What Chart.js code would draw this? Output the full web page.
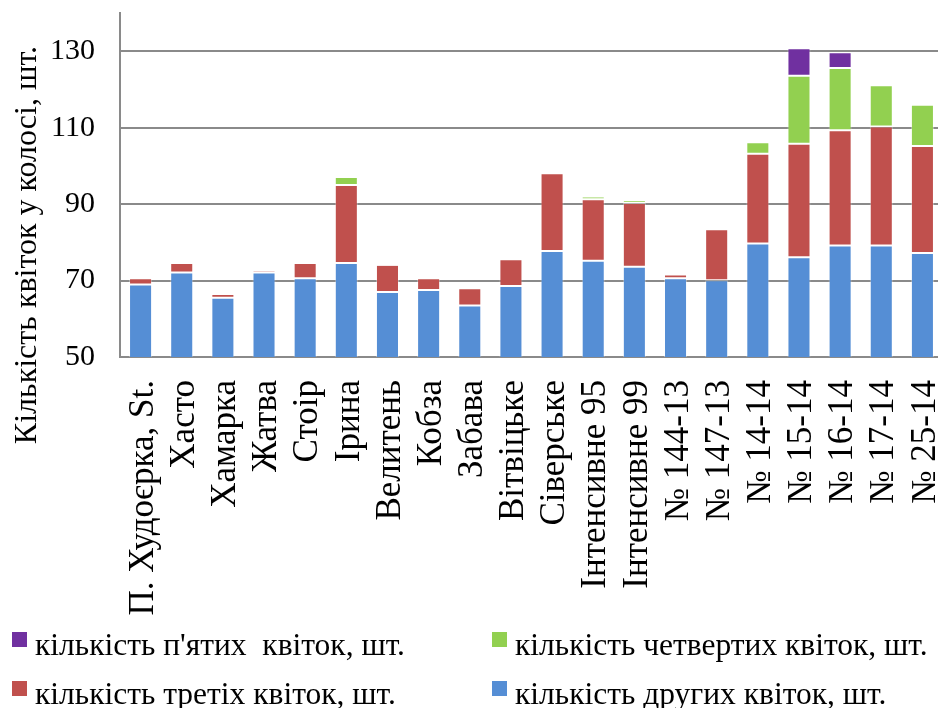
<!DOCTYPE html>
<html>
<head>
<meta charset="utf-8">
<script src="https://cdn.jsdelivr.net/npm/chart.js@4"></script>
<style>
  html, body { margin: 0; padding: 0; background: #fff; overflow: hidden; }
  #wrap { position: relative; width: 943px; height: 708px; }
</style>
</head>
<body>
<div id="wrap"><canvas id="c"></canvas></div>
<script>
const categories = ['П. Худоєрка, St.', 'Хасто', 'Хамарка', 'Жатва', 'Стоір', 'Ірина', 'Велитень', 'Кобза', 'Забава', 'Вітвіцьке', 'Сіверське', 'Інтенсивне 95', 'Інтенсивне 99', '№ 144-13', '№ 147-13', '№ 14-14', '№ 15-14', '№ 16-14', '№ 17-14', '№ 25-14'];
const secondFlowers = [69.0, 72.1, 65.5, 72.1, 70.6, 74.6, 67.0, 67.5, 63.5, 68.6, 77.7, 75.2, 73.6, 70.6, 70.1, 79.7, 76.1, 79.2, 79.2, 77.2];
const thirdFlowers  = [1.6, 2.5, 1.0, 0.6, 4.0, 20.4, 7.1, 3.1, 4.5, 7.0, 20.4, 16.1, 16.7, 1.0, 13.3, 23.5, 29.7, 30.1, 31.1, 28.0];
const fourthFlowers = [0, 0, 0, 0, 0, 2.1, 0, 0, 0, 0, 0, 0.7, 0.7, 0, 0, 3.0, 17.8, 16.3, 10.8, 10.8];
const fifthFlowers  = [0, 0, 0, 0, 0, 0, 0, 0, 0, 0, 0, 0, 0, 0, 0, 0, 7.2, 4.1, 0, 0];
const seriesNames = ['кількість других квіток, шт.', 'кількість третіх квіток, шт.', 'кількість четвертих квіток, шт.', 'кількість п\'ятих  квіток, шт.'];
const seriesColors = ['#558ED5', '#C0504D', '#92D050', '#7030A0'];
const yTicks = [50, 70, 90, 110, 130];
const yTitle = 'Кількість квіток у колосі, шт.';

const FONT = "'Liberation Serif', 'Times New Roman', serif";

const customText = {
  id: 'customText',
  afterDraw(chart) {
    const ctx = chart.ctx;
    ctx.save();
    ctx.fillStyle = '#000';
    ctx.font = '32px ' + FONT;
    ctx.textAlign = 'center';
    ctx.textBaseline = 'middle';
    ctx.translate(28, 245);
    ctx.rotate(-Math.PI / 2);
    ctx.fillText(yTitle, 0, 0);
    ctx.restore();

    ctx.save();
    ctx.font = '31.5px ' + FONT;
    ctx.textAlign = 'left';
    ctx.textBaseline = 'alphabetic';
    const items = [
      {i: 3, x: 12, y: 632},
      {i: 2, x: 492, y: 632},
      {i: 1, x: 12, y: 681},
      {i: 0, x: 492, y: 681}
    ];
    items.forEach(it => {
      ctx.fillStyle = seriesColors[it.i];
      ctx.fillRect(it.x, it.y, 15, 15);
      ctx.fillStyle = '#000';
      ctx.fillText(seriesNames[it.i], it.x + 23, it.y + 23);
    });
    ctx.restore();
  }
};

const datasets = [secondFlowers, thirdFlowers, fourthFlowers, fifthFlowers].map((d, i) => ({
  label: seriesNames[i],
  data: d,
  backgroundColor: seriesColors[i],
  borderColor: 'rgba(255,255,255,0.35)',
  borderWidth: 1,
  borderSkipped: false,
  barPercentage: 0.7,
  categoryPercentage: 0.8
}));

new Chart(document.getElementById('c'), {
  type: 'bar',
  data: { labels: categories, datasets },
  options: {
    responsive: true,
    maintainAspectRatio: false,
    animation: false,
    layout: { padding: { top: 13, right: 0, bottom: 0, left: 0 } },
    plugins: {
      legend: { display: false },
      tooltip: { enabled: false }
    },
    scales: {
      x: {
        stacked: true,
        grid: { display: false, drawTicks: false },
        border: { display: true, color: '#8a8a8a', width: 2 },
        ticks: {
          autoSkip: false,
          maxRotation: 90,
          minRotation: 90,
          padding: 23,
          labelOffset: 3,
          color: '#000',
          font: { family: FONT, size: 35 }
        },
        afterFit(scale) {
          scale.height = 351;
          scale.paddingLeft = 0; scale.paddingRight = 0;
          scale.paddingTop = 0; scale.paddingBottom = 0;
        }
      },
      y: {
        stacked: true,
        min: 50,
        max: 140,
        afterBuildTicks(scale) {
          scale.ticks = yTicks.map(v => ({ value: v }));
        },
        grid: { color: '#8a8a8a', lineWidth: 2, drawTicks: false },
        border: { display: true, color: '#8a8a8a', width: 2 },
        ticks: {
          padding: 25,
          color: '#000',
          font: { family: FONT, size: 30 }
        },
        afterFit(scale) {
          scale.width = 120;
          scale.paddingLeft = 0; scale.paddingRight = 0;
          scale.paddingTop = 0; scale.paddingBottom = 0;
        }
      }
    }
  },
  plugins: [customText]
});
</script>
</body>
</html>
